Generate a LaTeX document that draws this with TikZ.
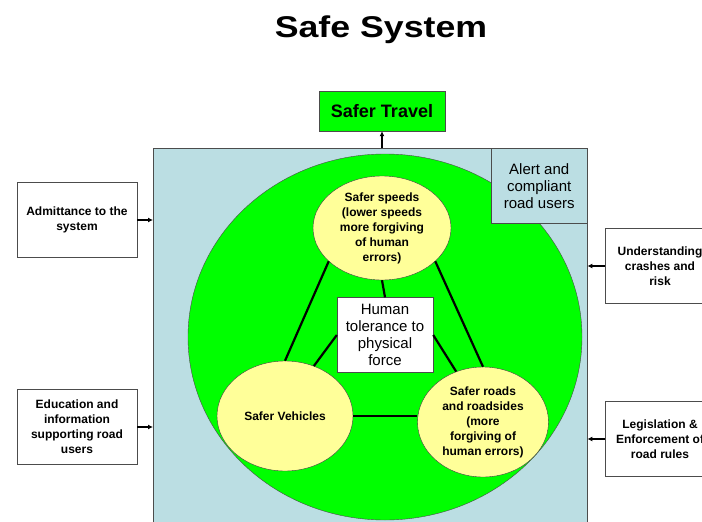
\documentclass[tikz,border=0pt]{standalone}
\usepackage{fontspec}
\setmainfont{Liberation Sans}
\usetikzlibrary{positioning,arrows.meta,shapes.geometric}
\definecolor{safegreen}{HTML}{00FF00}
\definecolor{sysblue}{HTML}{BBDEE3}
\definecolor{pillaryellow}{HTML}{FFFF99}

\begin{document}
\begin{tikzpicture}[
x=1pt, y=-1pt,
font=\fontsize{12}{15}\selectfont\bfseries,
sidebox/.style={draw=black!70, fill=white, align=center, minimum width=120pt, minimum height=75pt, inner sep=2pt},
pillar/.style={ellipse, draw=black!75, fill=pillaryellow, align=center, inner sep=0pt},
textbox/.style={draw=black!70, align=center, minimum width=96pt, minimum height=75pt, font=\fontsize{15}{17}\selectfont},
link/.style={line width=2.2pt},
arrow/.style={-{Latex[length=5pt,width=5pt]}, line width=1.5pt}
]
\clip (0,0) rectangle (702,522);
\fill[white] (0,0) rectangle (702,522);
\node[font=\fontsize{30}{36}\selectfont\bfseries, xscale=1.19, transform shape, anchor=base] (title) at (381,37) {Safe System};

% the system and its core
\node[draw=black!70, fill=sysblue, anchor=north west, minimum width=434pt, minimum height=400pt, inner sep=0pt] (sys) at (153,148) {};
\node[ellipse, draw=black!70, fill=safegreen, minimum width=394pt, minimum height=366pt, inner sep=0pt] (core) at (385,337) {};
\node[textbox, fill=sysblue, anchor=north east] (alert) at (sys.north east) {Alert and\\compliant\\road users};
\node[draw=black!70, fill=safegreen, minimum width=126pt, minimum height=40pt, font=\fontsize{18}{20}\selectfont\bfseries] (travel) at (382,111) {Safer Travel};

% the three pillars
\node[pillar, minimum width=138pt, minimum height=104pt] (speeds) at (382,228) {Safer speeds\\(lower speeds\\more forgiving\\of human\\errors)};
\node[pillar, minimum width=136pt, minimum height=110pt] (vehicles) at (285,416) {Safer Vehicles};
\node[pillar, minimum width=131pt, minimum height=110pt] (roads) at (483,422) {Safer roads\\and roadsides\\(more\\forgiving of\\human errors)};
\node[textbox, fill=white] (tolerance) at (385,335) {Human\\tolerance to\\physical\\force};

\draw[link] (speeds.212) -- (vehicles.north);
\draw[link] (speeds.328) -- (roads.north);
\draw[link] (vehicles.east) -- (vehicles.east -| roads.west);
\draw[link] (tolerance.north) -- (speeds.south);
\draw[link] (tolerance.west) -- (vehicles.60);
\draw[link] (tolerance.east) -- (roads.118);

% inputs on both sides
\node[sidebox] (admit) at (77,220) {Admittance to the\\system};
\node[sidebox] (educ) at (77,427) {Education and\\information\\supporting road\\users};
\node[sidebox, minimum width=110pt] (crash) at (660,266) {Understanding\\crashes and\\risk};
\node[sidebox, minimum width=110pt] (law) at (660,439) {Legislation \&\\Enforcement of\\road rules};

\draw[arrow] (admit.east) -- (admit.east -| sys.west);
\draw[arrow] (educ.east) -- (educ.east -| sys.west);
\draw[arrow] (crash.west) -- (crash.west -| sys.east);
\draw[arrow] (law.west) -- (law.west -| sys.east);
\draw[arrow] (travel.south |- sys.north) -- (travel.south);
\end{tikzpicture}
\end{document}
